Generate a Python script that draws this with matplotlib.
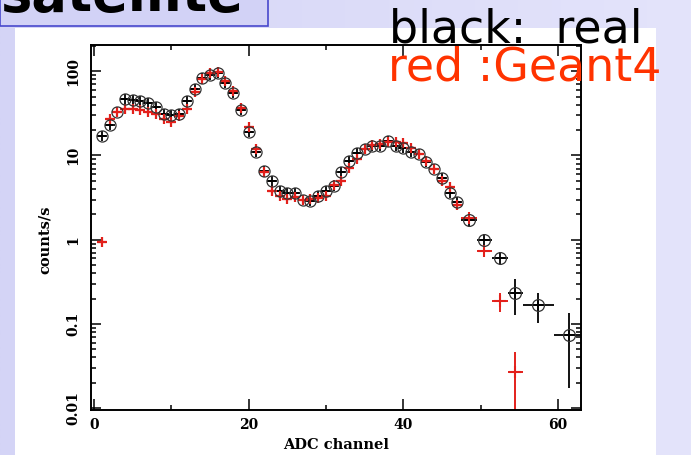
import numpy as np
import matplotlib.pyplot as plt
from matplotlib.patches import Rectangle
from matplotlib.ticker import FixedLocator, FixedFormatter, LogLocator, NullFormatter

# black: real data, red: Geant4 (one point per ADC channel)
channels = list(range(1, 48))
real_rate = [16.9, 23, 32.5, 46.6, 45.6, 44.4, 41.5, 38, 31.5, 30,
             31.5, 44.4, 62, 84, 91, 95, 73, 55.5, 35, 18.8,
             11, 6.5, 5.0, 3.8, 3.6, 3.6, 3.0, 2.85, 3.3, 3.75,
             4.3, 6.45, 8.7, 10.6, 11.9, 13.1, 13.1, 15, 13.1, 12.2,
             10.9, 10.4, 8.3, 6.9, 5.4, 3.6, 2.8]
sim_rate = [0.95, 27, 33, 36, 35.6, 34.5, 33, 31, 27, 25,
            29.5, 36, 57, 80, 95, 97, 76, 58, 36.5, 22,
            12, 6.3, 3.8, 3.3, 3.05, 3.25, 3.0, 3.05, 3.15, 3.3,
            4.45, 5.0, 7.05, 9.1, 11.9, 13.3, 13.6, 14.3, 14.3, 14.0,
            12.2, 10.4, 8.6, 6.9, 5.0, 4.2, 2.6]

# grouped high channels
real_tail_ch = [48.5, 50.5, 52.5, 54.5, 57.5, 61.5]
real_tail_hw = [1, 1, 1, 1, 2, 2]
real_tail = [1.72, 1.0, 0.60, 0.236, 0.167, 0.074]
real_tail_lo = [1.72, 1.0, 0.60, 0.127, 0.103, 0.0173]
real_tail_hi = [1.72, 1.0, 0.60, 0.345, 0.234, 0.133]

sim_tail_ch = [48.5, 50.5, 52.5, 54.5]
sim_tail_hw = [1, 1, 1, 1]
sim_tail = [1.8, 0.74, 0.186, 0.0267]
sim_tail_lo = [1.8, 0.74, 0.137, 0.001]
sim_tail_hi = [1.8, 0.74, 0.236, 0.046]

red = "#e3201b"

fig = plt.figure(figsize=(6.91, 4.55), dpi=100)

# slide background
bg = fig.add_axes([0, 0, 1, 1], zorder=-10)
grad = np.linspace(0, 1, 256)[None, :]
bg.imshow(grad, extent=[0, 1, 0, 1], aspect="auto",
          cmap=plt.matplotlib.colors.LinearSegmentedColormap.from_list(
              "lav", ["#d4d4f6", "#e4e4fb"]))
bg.add_patch(Rectangle((0, 0.943), 0.388, 0.06, facecolor="#d2d2f6",
                       edgecolor="#4848cc", lw=1.2))
bg.add_patch(Rectangle((0.0217, 0), 0.927, 0.938, facecolor="white",
                       edgecolor="none"))
bg.set_xlim(0, 1)
bg.set_ylim(0, 1)
bg.axis("off")

# slide title, only its lower part is inside the frame
fig.text(0.0, 0.976, "satellite", fontsize=38, fontweight="bold",
         ha="left", va="baseline")

ax = fig.add_axes([0.1317, 0.0989, 0.7091, 0.8022])

ax.errorbar(channels, real_rate, xerr=0.5, fmt="o", ms=8, mfc="none",
            mec="#333333", mew=0.9, ecolor="black", elinewidth=1.3)
ax.plot(channels, real_rate, "+", ms=7, mew=1.3, color="black")

r_tail = np.array(real_tail)
ax.errorbar(real_tail_ch, real_tail, xerr=real_tail_hw,
            yerr=[r_tail - np.array(real_tail_lo), np.array(real_tail_hi) - r_tail],
            fmt="o", ms=8.5, mfc="none", mec="#333333", mew=0.9,
            ecolor="black", elinewidth=1.3)
ax.plot(real_tail_ch, real_tail, "+", ms=8, mew=1.3, color="black")

ax.errorbar(channels, sim_rate, xerr=0.5, fmt="none", ecolor=red,
            elinewidth=1.5)
ax.plot(channels, sim_rate, "+", ms=6.5, mew=1.6, color=red)

s_tail = np.array(sim_tail)
ax.errorbar(sim_tail_ch, sim_tail, xerr=sim_tail_hw,
            yerr=[s_tail - np.array(sim_tail_lo), np.array(sim_tail_hi) - s_tail],
            fmt="none", ecolor=red, elinewidth=1.4)
ax.plot(sim_tail_ch, sim_tail, "+", ms=8, mew=1.5, color=red)

ax.set_yscale("log")
ax.set_xlim(-0.4, 63)
ax.set_ylim(0.0095, 205)

serif = "DejaVu Serif"
ax.xaxis.set_major_locator(FixedLocator([0, 20, 40, 60]))
ax.xaxis.set_minor_locator(FixedLocator([10, 30, 50]))
ax.yaxis.set_major_locator(FixedLocator([0.01, 0.1, 1, 10, 100]))
ax.yaxis.set_major_formatter(FixedFormatter(["0.01", "0.1", "1", "10", "100"]))
ax.yaxis.set_minor_locator(LogLocator(base=10, subs=np.arange(2, 10)))
ax.yaxis.set_minor_formatter(NullFormatter())

ax.tick_params(which="both", direction="in", top=True, right=True, width=1.1)
ax.tick_params(which="major", length=7)
ax.tick_params(which="minor", length=3.5)
ax.tick_params(axis="x", which="major", length=8, pad=6)
ax.tick_params(axis="y", labelrotation=90, pad=8)
for lab in ax.get_xticklabels() + ax.get_yticklabels():
    lab.set_fontfamily(serif)
    lab.set_fontweight("bold")
    lab.set_fontsize(10)
for lab in ax.get_yticklabels():
    lab.set_va("center")

for sp in ax.spines.values():
    sp.set_linewidth(1.4)

ax.set_xlabel("ADC channel", fontfamily=serif, fontweight="bold",
              fontsize=10.5, labelpad=4)
ax.set_ylabel("counts/s", fontfamily=serif, fontweight="bold", fontsize=10.5)
ax.yaxis.set_label_coords(-0.08, 0.466)

fig.text(0.563, 0.907, "black:  real", fontsize=33, color="black",
         ha="left", va="baseline")
fig.text(0.561, 0.822, "red :Geant4", fontsize=33, color="#ff3300",
         ha="left", va="baseline", zorder=10)

fig.savefig("out.png", dpi=100)
